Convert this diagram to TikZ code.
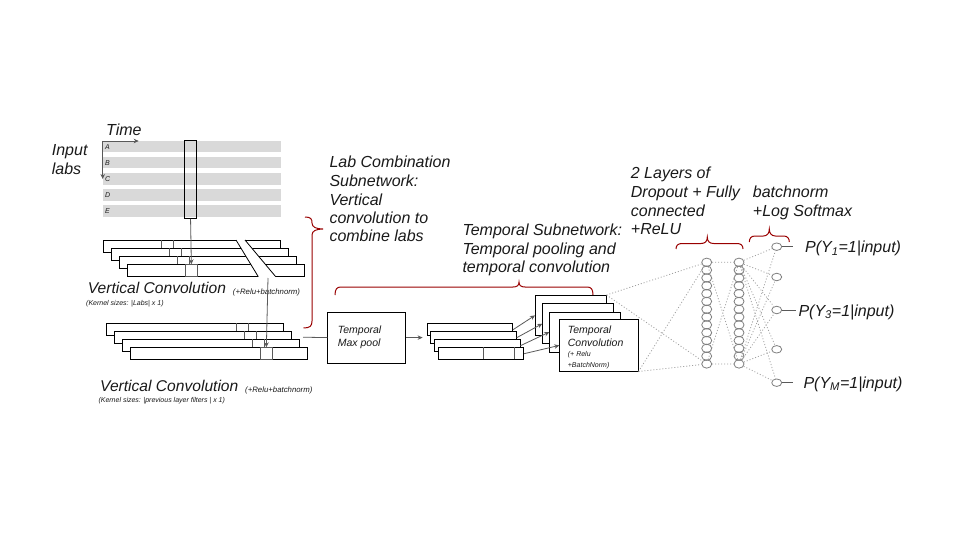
\documentclass[tikz,border=0pt]{standalone}
\usepackage{fontspec}
\setmainfont{Liberation Sans}
\usetikzlibrary{arrows.meta,shapes.geometric}
\definecolor{bracered}{HTML}{990000}
\definecolor{arrgray}{HTML}{595959}
\definecolor{bargray}{HTML}{D9D9D9}
\definecolor{dotgray}{HTML}{A0A0A0}
\definecolor{neurgray}{HTML}{7F7F7F}
\definecolor{txtcol}{HTML}{1A1A1A}
\newcommand\setfs[2]{\fontsize{#1}{#2}\selectfont\itshape}
\begin{document}
\begin{tikzpicture}[x=1pt,y=-1pt,
  txt/.style={anchor=base west, inner sep=0pt, text=txtcol},
  big/.style={txt, font=\setfs{16}{19}},
  vbig/.style={txt, font=\setfs{15.6}{19}},
  mid/.style={txt, font=\setfs{10.5}{13}},
  small/.style={txt, font=\setfs{7.8}{10}},
  tiny/.style={txt, font=\setfs{7}{9}},
  layerbox/.style={draw=black, fill=white, line width=0.8pt, anchor=north west, inner sep=0pt},
  winline/.style={draw=arrgray, line width=0.6pt},
  winbox/.style={draw=arrgray, line width=0.7pt, anchor=north west, inner sep=0pt, minimum width=12pt, minimum height=12pt},
  garrow/.style={draw=arrgray, line width=0.8pt, -{Stealth[length=5pt,width=4.5pt]}},
  gline/.style={draw=arrgray, line width=0.8pt},
  brace/.style={draw=bracered, line width=1pt},
  dotl/.style={draw=dotgray, line width=0.8pt, dash pattern=on 1pt off 2pt},
  neuron/.style={ellipse, draw=neurgray, line width=0.8pt, minimum width=10pt, minimum height=8.4pt, inner sep=0pt},
  outn/.style={ellipse, draw=neurgray, line width=0.8pt, minimum width=10pt, minimum height=7.5pt, inner sep=0pt}]
\useasboundingbox (0,0) rectangle (960,540);
\fill[white] (0,0) rectangle (960,540);

% ---------------- input labs ----------------
\foreach \y/\l in {141/A,157/B,173/C,189/D,205/E}{
  \fill[bargray] (102.7,\y) rectangle (280.7,\y+11.5);
  \node[tiny] (lab\l) at (105,\y+8.8) {\l};
}
\coordinate (torig) at (102.7,141);
\draw[garrow] (torig) -- ++(36,0);
\draw[garrow] (torig) -- ++(0,38);
\node[big] (ttime) at (106,136) {Time};
\node[big] (tin1) at (51.7,156) {Input};
\node[big] (tin2) at (51.7,174.3) {labs};
\node[draw, line width=0.8pt, minimum width=12.3pt, minimum height=78pt, anchor=north west, inner sep=0pt] (inbox) at (184,140) {};

% ---------------- vertical conv stack 1 ----------------
\foreach \i/\nm in {0/a,1/b,2/c,3/d}{
  \node[layerbox, minimum width=177pt, minimum height=12pt] (v1\nm) at ({103+8*\i},{240+8*\i}) {};
}
\foreach \i in {0,1,2}{
  \draw[winline] ({161+8*\i},{240+8*\i}) -- ++(0,8) ({173+8*\i},{240+8*\i}) -- ++(0,8);
}
\node[winbox] (w1) at (185,264.3) {};
% slanted band
\fill[white] (235.4,239) -- (244.2,239) -- (276.8,278) -- (259.1,278) -- cycle;
\draw[line width=0.8pt] (236,240) -- (258.3,276.7) (245,240) -- (275.7,276.7);
\coordinate (bandb) at (268,278);

\node[vbig] (vc1) at (87.7,293.3) {Vertical Convolution};
\node[small] (vc1r) at (232.7,294) {(+Relu+batchnorm)};
\node[tiny] (vc1k) at (86,305) {(Kernel sizes: |Labs| x 1)};

% ---------------- vertical conv stack 2 ----------------
\foreach \i/\nm in {0/a,1/b,2/c,3/d}{
  \node[layerbox, minimum width=177pt, minimum height=12pt] (v2\nm) at ({106+8*\i},{323.3+8*\i}) {};
}
\foreach \i in {0,1,2}{
  \draw[winline] ({236+8*\i},{323.3+8*\i}) -- ++(0,8) ({248+8*\i},{323.3+8*\i}) -- ++(0,8);
}
\node[winbox] (w2) at (260,347.3) {};

\node[vbig] (vc2) at (100,391.7) {Vertical Convolution};
\node[small] (vc2r) at (245,392.3) {(+Relu+batchnorm)};
\node[tiny] (vc2k) at (98.3,402.7) {(Kernel sizes: |previous layer filters | x 1)};

\draw[garrow] (inbox.south) -- (w1.north);
\draw[garrow] (bandb) -- (w2.north);

% ---------------- temporal max pool ----------------
\node[draw, line width=0.8pt, minimum width=78pt, minimum height=51pt, anchor=north west, inner sep=0pt] (mp) at (327.3,311.7) {};
\node[mid] (mpt1) at (337.7,333.3) {Temporal};
\node[mid] (mpt2) at (337.7,346.7) {Max pool};
\coordinate (s2out) at (303,337.2);
\draw[gline] (s2out) -- (mp.west);
\draw[garrow] (mp.east) -- ++(16.5,0);

% ---------------- stack 3 ----------------
\foreach \i/\nm in {0/a,1/b,2/c,3/d}{
  \node[layerbox, minimum width=85.5pt, minimum height=12pt] (t\nm) at ({426.7+3.7*\i},{323.3+8*\i}) {};
}
\draw[winline] (483.3,347.3) -- ++(0,12) (514.3,347.3) -- ++(0,12);

% ---------------- temporal conv boxes ----------------
\node[layerbox, minimum width=70.7pt, minimum height=40pt] (c1) at (535,295) {};
\node[layerbox, minimum width=70.4pt, minimum height=40pt] (c2) at (542.3,303.3) {};
\node[layerbox, minimum width=70.7pt, minimum height=40pt] (c3) at (549.3,311.7) {};
\node[layerbox, minimum width=78.4pt, minimum height=51.4pt] (c4) at (559.3,319.3) {};
\node[mid] (ct1) at (567.7,333.3) {Temporal};
\node[mid] (ct2) at (567.7,346) {Convolution};
\node[tiny] (ct3) at (567.7,356) {(+ Relu};
\node[tiny] (ct4) at (567.7,367.3) {+BatchNorm)};

\draw[garrow] (ta.east) -- (c1.west);
\draw[garrow] (tb.east) -- (c2.west);
\draw[garrow] (tc.east) -- (c3.west);
\draw[garrow] (td.east) -- (c4.west);

% ---------------- fully connected ----------------
\foreach \i in {1,...,14}{
  \node[neuron] (a\i) at (706.7,{262.3+(\i-1)*7.82}) {};
  \node[neuron] (b\i) at (739,{262.3+(\i-1)*7.82}) {};
}
\node[outn] (o1) at (776.7,246.7) {};
\node[outn] (o2) at (776.7,277) {};
\node[outn] (o3) at (776.7,310) {};
\node[outn] (o4) at (776.7,349.3) {};
\node[outn] (o5) at (776.7,382.7) {};

\draw[dotl] (c1.north east) -- (a1) (c1.north east) -- (a14)
            (c4.south east) -- (a1) (c4.south east) -- (a14);
\draw[dotl] (a1) -- (b1) (a14) -- (b14) (a1) -- (b14) (a14) -- (b1);
\foreach \o in {o1,o2,o3,o4,o5}{
  \draw[dotl] (b1) -- (\o) (b14) -- (\o);
}
\draw[gline] (o1.east) -- ++(11,0);
\draw[gline] (o3.east) -- ++(14,0);
\draw[gline] (o5.east) -- ++(11,0);
\node[big] (p1) at (805,252.7) {P(Y\textsubscript{1}=1|input)};
\node[big] (p3) at (798.3,316) {P(Y\textsubscript{3}=1|input)};
\node[big] (p5) at (803.3,388.3) {P(Y\textsubscript{M}=1|input)};

% ---------------- braces ----------------
\draw[brace] (305,217) .. controls (311,217) and (312,219) .. (312,223)
  .. controls (312,227) and (316,229) .. (323,229)
  .. controls (316,229) and (312,231) .. (312,235) -- (312,321)
  .. controls (312,326) and (310,328) .. (303.5,328);
\draw[brace] (335,295) .. controls (335,289) and (337,287) .. (341,287) -- (513,287)
  .. controls (517,287) and (519,285.5) .. (519,282)
  .. controls (519,285.5) and (521,287) .. (525,287) -- (587,287)
  .. controls (591,287) and (593,289) .. (593,295);
\draw[brace] (676,249) .. controls (676,245.5) and (678,243.5) .. (682,243.5) -- (701,243.5)
  .. controls (705,243.5) and (707.3,241.5) .. (707.3,237)
  .. controls (707.3,241.5) and (709.6,243.5) .. (713.6,243.5) -- (737,243.5)
  .. controls (741,243.5) and (743,245.5) .. (743,249);
\draw[brace] (749.3,242) .. controls (749.3,238.5) and (751,236) .. (755,236) -- (763.3,236)
  .. controls (767.3,236) and (769.3,233) .. (769.3,229)
  .. controls (769.3,233) and (771.3,236) .. (775.3,236) -- (783.6,236)
  .. controls (787.6,236) and (789.3,238.5) .. (789.3,242);

% ---------------- descriptive texts ----------------
\node[big] (lc1) at (329.3,167.3) {Lab Combination};
\node[big] (lc2) at (329.3,186.3) {Subnetwork:};
\node[big] (lc3) at (329.3,205) {Vertical};
\node[big] (lc4) at (329.3,223.3) {convolution to};
\node[big] (lc5) at (329.3,241.7) {combine labs};
\node[big] (ts1) at (462.3,235) {Temporal Subnetwork:};
\node[big] (ts2) at (462.3,254) {Temporal pooling and};
\node[big] (ts3) at (462.3,272.7) {temporal convolution};
\node[big] (fc1) at (630.7,178.3) {2 Layers of};
\node[big] (fc2) at (630.7,197.7) {Dropout + Fully};
\node[big] (fc3) at (630.7,216) {connected};
\node[big] (fc4) at (630.7,234.3) {+ReLU};
\node[big] (sm1) at (752.7,197.7) {batchnorm};
\node[big] (sm2) at (752.7,216) {+Log Softmax};
\end{tikzpicture}
\end{document}
